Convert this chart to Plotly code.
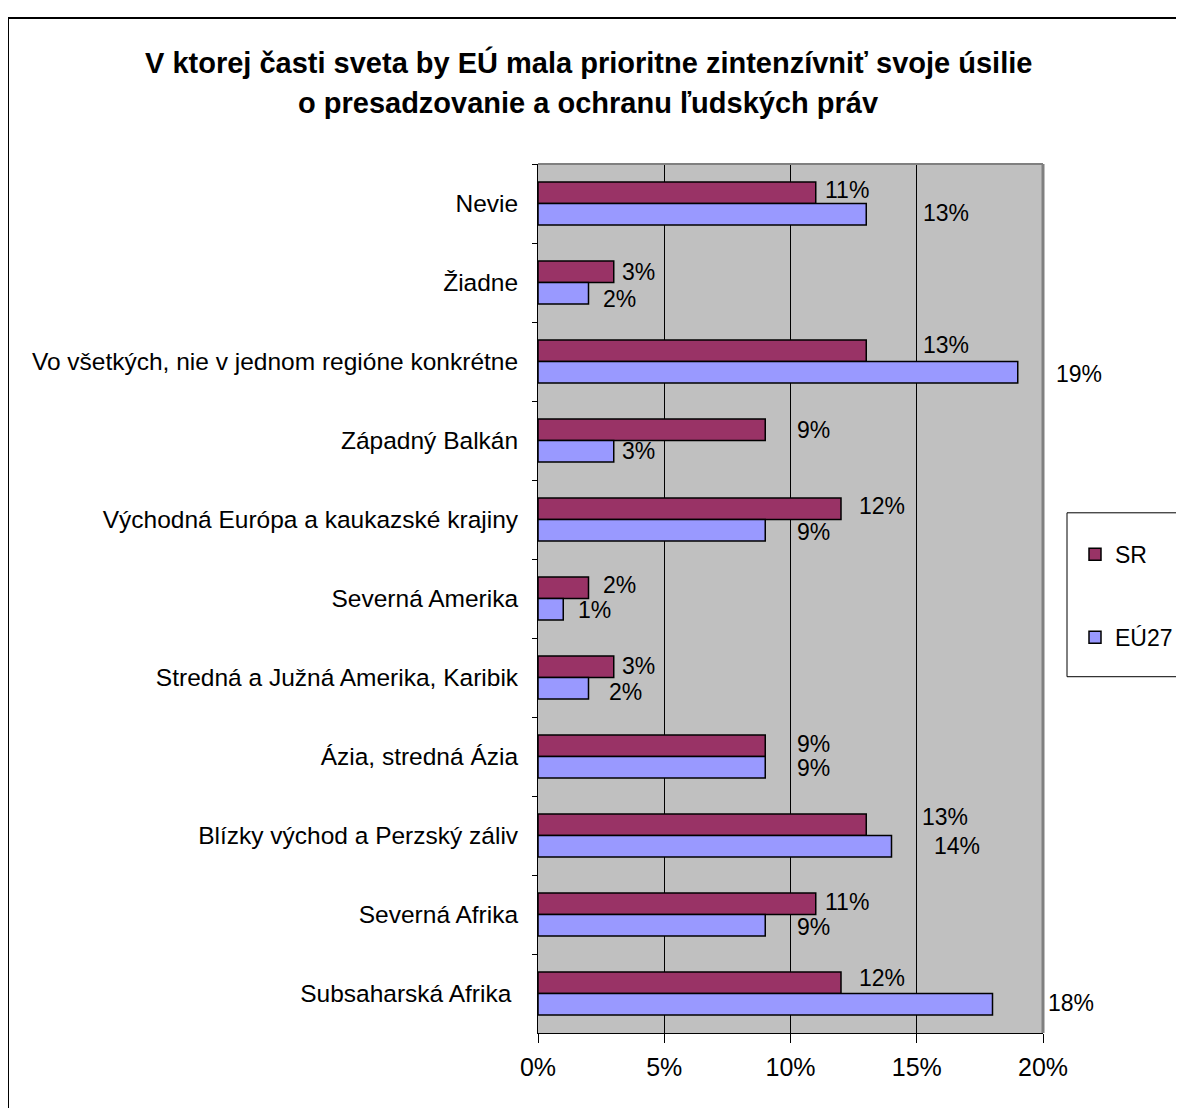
import plotly.graph_objects as go

# ---- data ----
categories = [
    "Nevie",
    "Žiadne",
    "Vo všetkých, nie v jednom regióne konkrétne",
    "Západný Balkán",
    "Východná Európa a kaukazské krajiny",
    "Severná Amerika",
    "Stredná a Južná Amerika, Karibik",
    "Ázia, stredná Ázia",
    "Blízky východ a Perzský záliv",
    "Severná Afrika",
    "Subsaharská Afrika\u00a0",
]
sr_values = [11, 3, 13, 9, 12, 2, 3, 9, 13, 11, 12]
eu_values = [13, 2, 19, 3, 9, 1, 2, 9, 14, 9, 18]
x_ticks = [0, 5, 10, 15, 20]
x_tick_labels = ["0%", "5%", "10%", "15%", "20%"]
series_names = ["SR", "EÚ27"]
title_lines = [
    "V ktorej časti sveta by EÚ mala prioritne zintenzívniť svoje úsilie",
    "o presadzovanie a ochranu ľudských práv",
]

# label placement tweaks (pixels): gap from bar end, vertical offset (down +)
sr_dx = [8, 7, 56, 31, 17, 13, 7, 31, 55, 8, 17]
sr_dy = [-3, 0, -6, 0, -2.5, -3, -1, -2, -8, -1.5, -4.5]
eu_dx = [56, 13, 37, 7, 31, 13.5, 19, 31, 41.5, 31, 54]
eu_dy = [-1, 6, 1.5, 0, 2, 1, 4, 1, 0, 2, -1]

FONT = "Liberation Sans, Arial, sans-serif"
SR_COLOR = "#993366"
EU_COLOR = "#9999FF"
BARGAP = 0.456

PAGE_OFF = 8  # page body margin
W, H = 1300, 1100
L, T = 530, 156
PW, PH = 505, 869.5
R = W - L - PW
B = H - T - PH


def sx(px):
    """screen x pixel -> paper x"""
    return (px - PAGE_OFF - L) / PW


def sy(py):
    """screen y pixel -> paper y"""
    return (H - B - (py - PAGE_OFF)) / PH


fig = go.Figure()
fig.add_trace(go.Bar(
    y=categories, x=sr_values, orientation="h", name=series_names[0],
    marker=dict(color=SR_COLOR, line=dict(color="black", width=1.5)),
    legendgroup="sr", hoverinfo="x+y",
))
fig.add_trace(go.Bar(
    y=categories, x=eu_values, orientation="h", name=series_names[1],
    marker=dict(color=EU_COLOR, line=dict(color="black", width=1.5)),
    legendgroup="eu", hoverinfo="x+y",
))

w = 1 - BARGAP
annotations = []
for i, (v, dx, dy) in enumerate(zip(sr_values, sr_dx, sr_dy)):
    annotations.append(dict(
        x=v, y=i - w / 4, xref="x", yref="y", text=f"{v}%", showarrow=False,
        xanchor="left", yanchor="middle", xshift=dx, yshift=-dy,
        font=dict(family=FONT, size=23, color="black"), borderpad=0,
    ))
for i, (v, dx, dy) in enumerate(zip(eu_values, eu_dx, eu_dy)):
    annotations.append(dict(
        x=v, y=i + w / 4, xref="x", yref="y", text=f"{v}%", showarrow=False,
        xanchor="left", yanchor="middle", xshift=dx, yshift=-dy,
        font=dict(family=FONT, size=23, color="black"), borderpad=0,
    ))
# title lines
for line, py in zip(title_lines, [62, 103]):
    annotations.append(dict(
        x=sx(588), y=sy(py), xref="paper", yref="paper",
        text=f"<b>{line}</b>", showarrow=False, xanchor="center", yanchor="middle",
        font=dict(family=FONT, size=29, color="black"),
    ))

shapes = [
    # outer chart border
    dict(type="rect", xref="paper", yref="paper",
         x0=sx(8), x1=sx(1230), y0=sy(1140), y1=sy(18),
         line=dict(color="black", width=2), fillcolor="rgba(0,0,0,0)", layer="above"),
    # plot area top / right border (grey)
    dict(type="line", xref="paper", yref="paper", x0=0, x1=1, y0=1, y1=1,
         line=dict(color="#808080", width=2), layer="above"),
    dict(type="line", xref="paper", yref="paper", x0=1, x1=1, y0=0, y1=1,
         line=dict(color="#808080", width=3), layer="above"),
    # legend box
    dict(type="rect", xref="paper", yref="paper",
         x0=sx(1067), x1=sx(1215), y0=sy(677), y1=sy(513),
         line=dict(color="black", width=1), fillcolor="white", layer="below"),
]

fig.update_layout(
    width=W, height=H,
    margin=dict(l=L, r=R, t=T, b=B, pad=0, autoexpand=False),
    paper_bgcolor="white", plot_bgcolor="#C0C0C0",
    barmode="group", bargap=BARGAP, bargroupgap=0,
    font=dict(family=FONT, size=24, color="black"),
    showlegend=True,
    legend=dict(
        x=sx(1075), y=sy(533), xanchor="left", yanchor="top",
        bgcolor="rgba(0,0,0,0)", borderwidth=0, tracegroupgap=50,
        font=dict(family=FONT, size=23, color="black"), traceorder="grouped",
    ),
    annotations=annotations,
    shapes=shapes,
    xaxis=dict(
        range=[0, 20], tickvals=x_ticks, ticktext=x_tick_labels,
        showgrid=True, gridcolor="black", gridwidth=1, zeroline=False,
        showline=True, linecolor="black", linewidth=1,
        ticks="outside", ticklen=9, tickcolor="black", tickwidth=1,
        ticklabelstandoff=3,
        tickfont=dict(family=FONT, size=25, color="black"),
        fixedrange=True,
    ),
    yaxis=dict(
        type="category", autorange="reversed", categoryorder="array",
        categoryarray=categories,
        showgrid=False, zeroline=False,
        showline=True, linecolor="black", linewidth=1,
        ticks="outside", ticklen=5, tickcolor="black", tickwidth=1,
        tickson="boundaries", ticklabelstandoff=14,
        tickfont=dict(family=FONT, size=24.5, color="black"),
        fixedrange=True,
    ),
)

fig.write_html("out.html")
